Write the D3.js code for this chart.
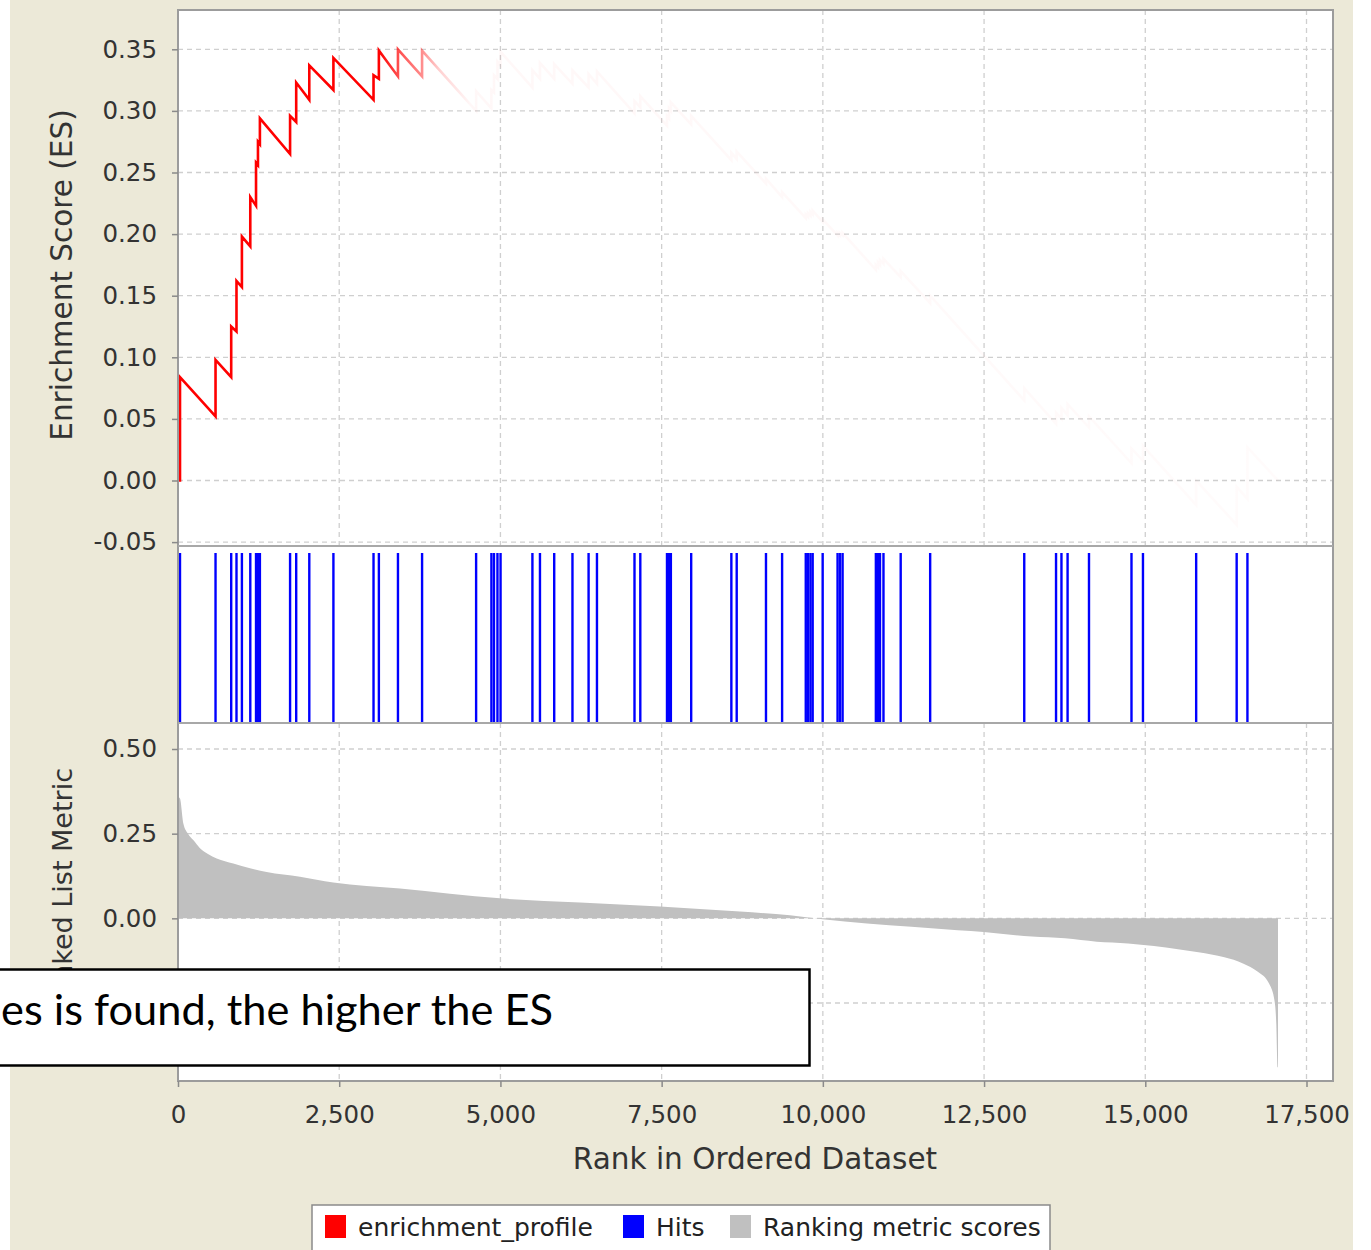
<!DOCTYPE html>
<html>
<head>
<meta charset="utf-8">
<script src="https://cdn.jsdelivr.net/npm/d3@7"></script>
<style>
    body { margin: 0; background: #fff; }
    text { font-family: "DejaVu Sans", sans-serif; }
</style>
</head>
<body>
<div id="chart"></div>
<script>
// ranks of the gene set members (hits) in the ordered list
var hitRanks = [31, 582, 825, 907, 991, 1121, 1210, 1240, 1270, 1738, 1833, 2036, 2410, 3032, 3115, 3411, 3785,
    4623, 4860, 4900, 4954, 5002, 5496, 5613, 5834, 6117, 6367, 6497, 7079, 7169, 7583, 7614, 7643, 7958,
    8581, 8664, 9118, 9368, 9735, 9770, 9808, 9842, 9997, 10228, 10265, 10306, 10822, 10855, 10886, 10940,
    11207, 11664, 13123, 13616, 13700, 13795, 14127, 14786, 14964, 15789, 16417, 16584];

// running enrichment score: value just before and just after each hit
var esBefore = [0.000, 0.052, 0.084, 0.121, 0.157, 0.190, 0.223, 0.256, 0.273, 0.265, 0.291, 0.309, 0.317, 0.309, 0.326, 0.328, 0.328,
    0.300, 0.302, 0.315, 0.326, 0.337, 0.319, 0.326, 0.326, 0.322, 0.319, 0.322, 0.298, 0.303, 0.288, 0.294, 0.300, 0.289,
    0.260, 0.261, 0.241, 0.230, 0.213, 0.214, 0.215, 0.216, 0.210, 0.199, 0.199, 0.199, 0.171, 0.173, 0.175, 0.176,
    0.165, 0.144, 0.065, 0.046, 0.050, 0.053, 0.043, 0.014, 0.016, -0.020, -0.036, -0.015];
var esAfter = [0.084, 0.098, 0.125, 0.162, 0.198, 0.230, 0.258, 0.275, 0.294, 0.296, 0.323, 0.337, 0.343, 0.329, 0.349, 0.350, 0.349,
    0.316, 0.317, 0.329, 0.340, 0.348, 0.333, 0.339, 0.338, 0.333, 0.330, 0.332, 0.308, 0.312, 0.296, 0.302, 0.307, 0.296,
    0.266, 0.267, 0.245, 0.234, 0.216, 0.217, 0.218, 0.219, 0.212, 0.201, 0.201, 0.201, 0.175, 0.177, 0.179, 0.180,
    0.170, 0.150, 0.075, 0.055, 0.059, 0.062, 0.052, 0.026, 0.028, 0.000, -0.005, 0.027];
var listSize = 17058;

// ranked list metric read along the list
var metricRanks = [0, 31, 82, 155, 237, 341, 465, 600, 858, 1117, 1375, 1892, 2408, 3443, 4993, 6234, 7474, 8715, 9490,
    9996, 10684, 11374, 12092, 12494, 13241, 13755, 14246, 14732, 15135, 15507, 15825, 16226, 16515, 16745,
    16917, 17002, 17031, 17051, 17058];
var metricValues = [0.36, 0.354, 0.281, 0.25, 0.231, 0.207, 0.19, 0.177, 0.162, 0.148, 0.137, 0.123, 0.106, 0.088, 0.059, 0.047, 0.035, 0.020, 0.009,
    -0.003, -0.015, -0.025, -0.035, -0.040, -0.054, -0.059, -0.069, -0.074, -0.082, -0.091, -0.100, -0.115, -0.133, -0.158,
    -0.192, -0.241, -0.31, -0.44, -0.44];

var esTicks = [-0.05, 0, 0.05, 0.10, 0.15, 0.20, 0.25, 0.30, 0.35];
var metricTicks = [-0.25, 0, 0.25, 0.50];
var rankTicks = [0, 2500, 5000, 7500, 10000, 12500, 15000, 17500];

var legendLabels = ["enrichment_profile", "Hits", "Ranking metric scores"];
var legendColors = ["#ff0000", "#0000ff", "#c0c0c0"];

var noteText = "es is found, the higher the ES";

// layout
var W = 1371, H = 1250;
var plotL = 178, plotR = 1333;
var esTop = 10, esBot = 545, hitTop = 546, hitBot = 723, mBot = 1081;
var boxTop = 969.5, boxBot = 1065.5;

var svg = d3.select("#chart")
    .append("svg")
    .attr("width", W)
    .attr("height", H);

// beige window panel
svg.append("rect").attr("x", 10).attr("y", 0).attr("width", 1343).attr("height", H).attr("fill", "#ece9d8");

// clip for what sits under the note box
svg.append("defs").append("clipPath")
    .attr("id", "abovebox")
    .append("rect")
    .attr("x", 0).attr("y", 0).attr("width", W).attr("height", boxTop);

//////////
// SCALES //
//////////
var x = d3.scaleLinear().domain([0, 17500]).range([plotL, 1306.5]);
var yES = d3.scaleLinear().domain([-0.05, 0.35]).range([542.1, 49.3]);
var yM = d3.scaleLinear().domain([-0.25, 0.5]).range([1003, 749]);

var fmt = function (d) { return d3.format(".2f")(d).replace("−", "-"); };

// plot backgrounds
svg.append("rect").attr("x", plotL).attr("y", esTop).attr("width", plotR - plotL).attr("height", mBot - esTop).attr("fill", "#fff");

// grid lines
var grid = svg.append("g")
    .attr("stroke", "#cfcfcf")
    .attr("stroke-width", 1.3)
    .attr("stroke-dasharray", "5,4");

grid.selectAll("esgrid")
    .data(esTicks)
    .enter()
    .append("line")
    .attr("x1", plotL).attr("x2", plotR)
    .attr("y1", function (d) { return yES(d); })
    .attr("y2", function (d) { return yES(d); });

grid.selectAll("mgrid")
    .data(metricTicks)
    .enter()
    .append("line")
    .attr("x1", plotL).attr("x2", plotR)
    .attr("y1", function (d) { return yM(d); })
    .attr("y2", function (d) { return yM(d); });

grid.selectAll("vgrid1")
    .data(rankTicks.slice(1))
    .enter()
    .append("line")
    .attr("x1", function (d) { return x(d); })
    .attr("x2", function (d) { return x(d); })
    .attr("y1", esTop).attr("y2", esBot);

grid.selectAll("vgrid2")
    .data(rankTicks.slice(1))
    .enter()
    .append("line")
    .attr("x1", function (d) { return x(d); })
    .attr("x2", function (d) { return x(d); })
    .attr("y1", hitBot).attr("y2", mBot);

//////////
// RANKED LIST METRIC //
//////////
var metricData = metricRanks.map(function (r, i) { return { rank: r, value: metricValues[i] }; });
var area = d3.area()
    .x(function (d) { return x(d.rank); })
    .y0(yM(0))
    .y1(function (d) { return yM(d.value); })
    .curve(d3.curveMonotoneX);

svg.append("path")
    .datum(metricData)
    .attr("fill", "#c0c0c0")
    .attr("d", area);

//////////
// HITS //
//////////
svg.selectAll("hits")
    .data(hitRanks)
    .enter()
    .append("line")
    .attr("x1", function (d) { return x(d); })
    .attr("x2", function (d) { return x(d); })
    .attr("y1", 553)
    .attr("y2", hitBot)
    .attr("stroke", "#0000ff")
    .attr("stroke-width", 2.4);

//////////
// ENRICHMENT PROFILE //
//////////
var esData = [{ rank: 0, es: 0 }];
hitRanks.forEach(function (r, i) {
    esData.push({ rank: r, es: esBefore[i] });
    esData.push({ rank: r, es: esAfter[i] });
});
esData.push({ rank: listSize, es: 0 });

// the profile fades out after the first part of the list
var grad = svg.select("defs").append("linearGradient")
    .attr("id", "esfade")
    .attr("gradientUnits", "userSpaceOnUse")
    .attr("x1", x(0)).attr("x2", x(17500))
    .attr("y1", 0).attr("y2", 0);
[[0, 1], [0.178, 1], [0.195, 0.7], [0.216, 0.45], [0.232, 0.18], [0.259, 0.03], [1, 0.015]].forEach(function (s) {
    grad.append("stop")
        .attr("offset", s[0])
        .attr("stop-color", "#ff0000")
        .attr("stop-opacity", s[1]);
});

var line = d3.line()
    .x(function (d) { return x(d.rank); })
    .y(function (d) { return yES(d.es); });

svg.append("path")
    .datum(esData)
    .attr("fill", "none")
    .attr("stroke", "url(#esfade)")
    .attr("stroke-width", 2.6)
    .attr("stroke-linejoin", "miter")
    .attr("d", line);

//////////
// FRAMES //
//////////
svg.append("rect")
    .attr("x", plotL).attr("y", esTop)
    .attr("width", plotR - plotL).attr("height", mBot - esTop)
    .attr("fill", "none").attr("stroke", "#9c9c9c").attr("stroke-width", 2);
[esBot + 1, hitBot].forEach(function (yy) {
    svg.append("line")
        .attr("x1", plotL).attr("x2", plotR)
        .attr("y1", yy).attr("y2", yy)
        .attr("stroke", "#a8a8a8").attr("stroke-width", 2);
});

//////////
// AXIS //
//////////
function styleAxis(g) {
    g.select(".domain").remove();
    g.selectAll(".tick line").attr("stroke", "#8a8a8a").attr("stroke-width", 1.5);
    g.selectAll(".tick text").attr("fill", "#333").style("font-size", "24.5px").style("font-family", "DejaVu Sans");
}

svg.append("g")
    .attr("transform", "translate(" + plotL + ",0)")
    .call(d3.axisLeft(yES).tickValues(esTicks).tickFormat(fmt).tickSize(6).tickPadding(15))
    .call(styleAxis);

// labels below the note box are hidden by it
var mAxis = svg.append("g")
    .attr("transform", "translate(" + plotL + ",0)")
    .call(d3.axisLeft(yM).tickValues(metricTicks).tickFormat(fmt).tickSize(6).tickPadding(15))
    .call(styleAxis);
mAxis.selectAll(".tick text").filter(function (d) { return yM(d) > boxTop; }).remove();

svg.append("g")
    .attr("transform", "translate(0," + mBot + ")")
    .call(d3.axisBottom(x).tickValues(rankTicks).tickFormat(d3.format(",")).tickSize(6).tickPadding(19))
    .call(styleAxis);

// axis titles
svg.append("text")
    .attr("transform", "translate(72,275) rotate(-90)")
    .attr("text-anchor", "middle")
    .attr("fill", "#333")
    .style("font-size", "29.5px")
    .text("Enrichment Score (ES)");

svg.append("g")
    .attr("clip-path", "url(#abovebox)")
    .append("text")
    .attr("transform", "translate(72,768) rotate(-90)")
    .attr("text-anchor", "end")
    .attr("fill", "#333")
    .style("font-size", "27px")
    .text("Ranked List Metric");

svg.append("text")
    .attr("x", 755).attr("y", 1169)
    .attr("text-anchor", "middle")
    .attr("fill", "#333")
    .style("font-size", "29.5px")
    .text("Rank in Ordered Dataset");

//////////
// LEGEND //
//////////
var legend = svg.append("g");
legend.append("rect")
    .attr("x", 312).attr("y", 1205).attr("width", 738).attr("height", 60)
    .attr("fill", "#fff").attr("stroke", "#8a8a8a").attr("stroke-width", 1.5);

var legX = [325, 623, 730];
legend.selectAll("legsq")
    .data(legendLabels)
    .enter()
    .append("rect")
    .attr("x", function (d, i) { return legX[i]; })
    .attr("y", 1215)
    .attr("width", 21)
    .attr("height", 23)
    .attr("fill", function (d, i) { return legendColors[i]; });

legend.selectAll("legtext")
    .data(legendLabels)
    .enter()
    .append("text")
    .attr("x", function (d, i) { return legX[i] + 33; })
    .attr("y", 1236)
    .attr("fill", "#222")
    .style("font-size", "25px")
    .text(function (d) { return d; });

//////////
// NOTE BOX //
//////////
svg.append("rect")
    .attr("x", -5).attr("y", boxTop).attr("width", 814.5).attr("height", boxBot - boxTop)
    .attr("fill", "#fff").attr("stroke", "#000").attr("stroke-width", 2.5);

var note = svg.append("text")
    .attr("x", 1).attr("y", 1025)
    .attr("fill", "#000")
    .style("font-family", "Lato, 'Open Sans', sans-serif")
    .style("font-size", "38px")
    .text(noteText);
var nw = note.node().getComputedTextLength();
note.style("font-size", (38 * 552 / nw) + "px");
</script>
</body>
</html>
